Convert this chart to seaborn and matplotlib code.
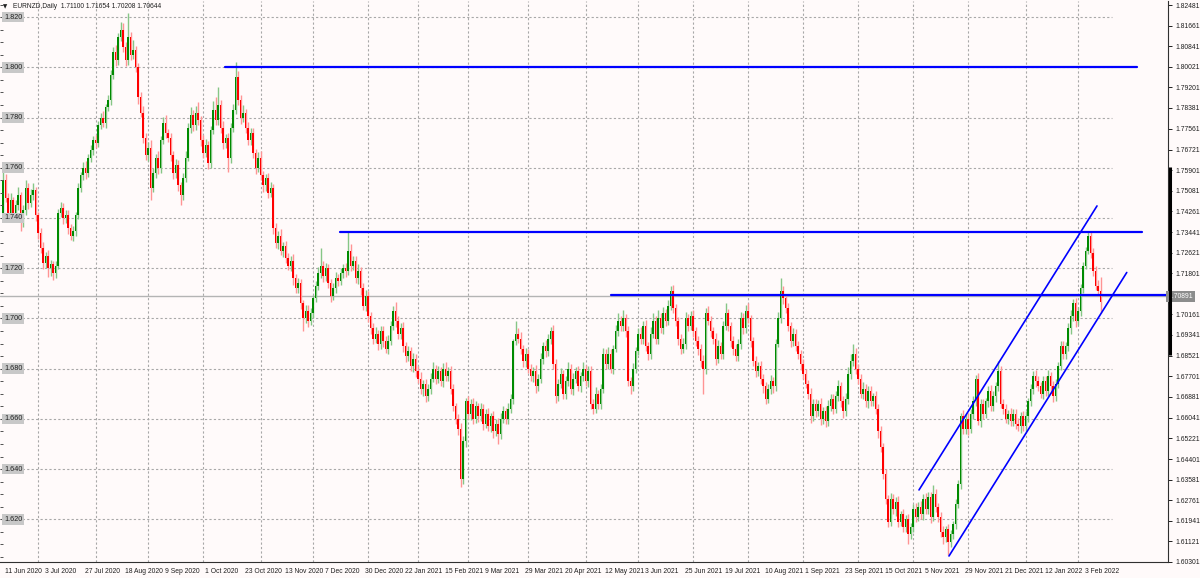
import matplotlib
matplotlib.use("Agg")
import matplotlib.pyplot as plt
import matplotlib.transforms as mtransforms
import numpy as np
import pandas as pd
import seaborn as sns

# EURNZD daily bars, 11 Jun 2020 .. 14 Feb 2022 (bar index 0 = 11 Jun 2020)
first_open = 1.7410
closes = [
    1.7550, 1.7480, 1.7420, 1.7470, 1.7420, 1.7450, 1.7490, 1.7380, 1.7430, 1.7520,
    1.7460, 1.7490, 1.7510, 1.7410, 1.7340, 1.7280, 1.7220, 1.7250, 1.7200, 1.7215,
    1.7180, 1.7210, 1.7420, 1.7440, 1.7400, 1.7410, 1.7360, 1.7330, 1.7350, 1.7410,
    1.7520, 1.7570, 1.7600, 1.7580, 1.7640, 1.7670, 1.7710, 1.7700, 1.7770, 1.7800,
    1.7780, 1.7840, 1.7870, 1.7970, 1.8060, 1.8030, 1.8120, 1.8150, 1.8080, 1.8030,
    1.8120, 1.8050, 1.8070, 1.8000, 1.7880, 1.7820, 1.7720, 1.7650, 1.7680, 1.7520,
    1.7580, 1.7640, 1.7600, 1.7710, 1.7780, 1.7740, 1.7720, 1.7650, 1.7580, 1.7610,
    1.7530, 1.7490, 1.7560, 1.7640, 1.7760, 1.7810, 1.7770, 1.7820, 1.7790, 1.7710,
    1.7660, 1.7690, 1.7620, 1.7750, 1.7830, 1.7790, 1.7850, 1.7760, 1.7700, 1.7720,
    1.7640, 1.7760, 1.7830, 1.7960, 1.7870, 1.7800, 1.7820, 1.7760, 1.7710, 1.7740,
    1.7660, 1.7600, 1.7640, 1.7570, 1.7530, 1.7560, 1.7500, 1.7520, 1.7360, 1.7300,
    1.7330, 1.7270, 1.7290, 1.7240, 1.7210, 1.7230, 1.7160, 1.7120, 1.7140, 1.7060,
    1.7000, 1.7030, 1.6990, 1.7020, 1.7080, 1.7130, 1.7180, 1.7210, 1.7170, 1.7200,
    1.7140, 1.7090, 1.7120, 1.7160, 1.7150, 1.7180, 1.7200, 1.7190, 1.7270, 1.7210,
    1.7230, 1.7160, 1.7190, 1.7120, 1.7050, 1.7090, 1.7010, 1.6960, 1.6920, 1.6940,
    1.6900, 1.6950, 1.6910, 1.6880, 1.6910, 1.6970, 1.7030, 1.6990, 1.6940, 1.6960,
    1.6890, 1.6850, 1.6870, 1.6810, 1.6840, 1.6790, 1.6760, 1.6720, 1.6740, 1.6690,
    1.6720, 1.6760, 1.6800, 1.6760, 1.6790, 1.6750, 1.6800, 1.6770, 1.6790, 1.6720,
    1.6650, 1.6600, 1.6560, 1.6360, 1.6510, 1.6670, 1.6620, 1.6660, 1.6600, 1.6650,
    1.6610, 1.6640, 1.6580, 1.6620, 1.6570, 1.6610, 1.6550, 1.6580, 1.6540, 1.6600,
    1.6630, 1.6600, 1.6640, 1.6680, 1.6910, 1.6940, 1.6920, 1.6880, 1.6830, 1.6860,
    1.6800, 1.6770, 1.6790, 1.6730, 1.6760, 1.6840, 1.6890, 1.6870, 1.6920, 1.6950,
    1.6820, 1.6690, 1.6740, 1.6780, 1.6700, 1.6750, 1.6800, 1.6720, 1.6760, 1.6790,
    1.6730, 1.6770, 1.6800, 1.6750, 1.6790, 1.6660, 1.6640, 1.6700, 1.6660, 1.6720,
    1.6860, 1.6820, 1.6860, 1.6800, 1.6880, 1.6950, 1.6990, 1.6970, 1.7000, 1.6950,
    1.6750, 1.6730, 1.6800, 1.6870, 1.6940, 1.6920, 1.6970, 1.6890, 1.6860, 1.6940,
    1.6990, 1.6920, 1.7000, 1.6960, 1.7020, 1.6990, 1.7050, 1.7110, 1.7040, 1.6990,
    1.6920, 1.6880, 1.6900, 1.7000, 1.6970, 1.7010, 1.6950, 1.6910, 1.6880, 1.6830,
    1.6800, 1.7020, 1.6990, 1.6950, 1.6920, 1.6840, 1.6890, 1.6860, 1.6970, 1.7020,
    1.6970, 1.6910, 1.6880, 1.6850, 1.6900, 1.7000, 1.6960, 1.7030, 1.7000, 1.6910,
    1.6830, 1.6790, 1.6810, 1.6760, 1.6730, 1.6680, 1.6720, 1.6750, 1.6730, 1.6900,
    1.7000, 1.7110, 1.7080, 1.7040, 1.6970, 1.6910, 1.6940, 1.6890, 1.6860, 1.6820,
    1.6780, 1.6740, 1.6700, 1.6610, 1.6660, 1.6630, 1.6660, 1.6600, 1.6630, 1.6590,
    1.6650, 1.6680, 1.6640, 1.6690, 1.6730, 1.6670, 1.6630, 1.6680, 1.6780, 1.6830,
    1.6860, 1.6800, 1.6760, 1.6700, 1.6720, 1.6670, 1.6710, 1.6670, 1.6690, 1.6640,
    1.6550, 1.6490, 1.6380, 1.6280, 1.6190, 1.6280, 1.6240, 1.6270, 1.6190, 1.6220,
    1.6170, 1.6200, 1.6140, 1.6170, 1.6240, 1.6210, 1.6250, 1.6220, 1.6280, 1.6240,
    1.6290, 1.6210, 1.6300, 1.6250, 1.6210, 1.6150, 1.6130, 1.6160, 1.6110, 1.6140,
    1.6180, 1.6260, 1.6340, 1.6610, 1.6560, 1.6600, 1.6560, 1.6620, 1.6670, 1.6760,
    1.6590, 1.6660, 1.6620, 1.6670, 1.6710, 1.6650, 1.6690, 1.6730, 1.6790, 1.6660,
    1.6640, 1.6600, 1.6620, 1.6590, 1.6620, 1.6580, 1.6570, 1.6610, 1.6570, 1.6610,
    1.6670, 1.6720, 1.6770, 1.6750, 1.6730, 1.6700, 1.6750, 1.6710, 1.6770, 1.6730,
    1.6690, 1.6740, 1.6810, 1.6890, 1.6860, 1.6890, 1.6960, 1.7010, 1.7060, 1.6990,
    1.7030, 1.7120, 1.7210, 1.7270, 1.7330, 1.7260, 1.7190, 1.7130, 1.7110, 1.70644,
]

# wick lengths above / below the candle body, in pips
upper_wick = [
    40, 25, 18, 30, 12, 22, 35, 15, 20, 30, 18, 25, 30, 15, 12, 20, 25, 15, 22, 18,
    15, 20, 15, 25, 18, 20, 22, 15, 20, 12, 18, 15, 22, 25, 15, 20, 18, 22, 15, 20,
    25, 15, 20, 18, 22, 30, 15, 30, 25, 20, 95, 22, 40, 15, 18, 20, 25, 18, 22, 30,
    20, 15, 25, 18, 22, 30, 15, 20, 18, 25, 20, 15, 18, 25, 20, 30, 22, 25, 40, 15,
    20, 25, 15, 18, 35, 50, 70, 20, 25, 15, 18, 20, 25, 60, 25, 20, 30, 15, 22, 18,
    20, 15, 22, 25, 18, 15, 20, 25, 15, 20, 18, 25, 15, 20, 22, 18, 25, 15, 20, 18,
    15, 22, 25, 20, 15, 18, 25, 70, 20, 22, 15, 18, 20, 25, 15, 22, 18, 20, 75, 25,
    20, 18, 25, 15, 20, 22, 18, 15, 20, 25, 15, 18, 20, 22, 25, 18, 20, 35, 18, 22,
    25, 18, 20, 15, 22, 18, 20, 25, 15, 20, 18, 22, 25, 15, 20, 18, 22, 25, 15, 20,
    18, 15, 20, 25, 20, 15, 22, 18, 25, 20, 15, 22, 18, 20, 25, 15, 20, 18, 22, 25,
    20, 15, 22, 18, 10, 50, 20, 25, 15, 22, 18, 20, 15, 25, 20, 22, 18, 25, 20, 15,
    25, 20, 18, 22, 15, 20, 25, 18, 22, 15, 20, 18, 25, 15, 22, 20, 18, 25, 15, 20,
    22, 18, 25, 20, 15, 22, 30, 20, 35, 18, 20, 15, 22, 18, 20, 25, 20, 22, 15, 25,
    30, 18, 35, 20, 25, 18, 22, 20, 25, 18, 15, 20, 22, 25, 18, 20, 22, 15, 20, 18,
    25, 20, 30, 18, 15, 22, 25, 18, 20, 40, 18, 15, 22, 20, 18, 25, 20, 22, 30, 15,
    18, 20, 15, 22, 18, 15, 20, 25, 18, 20, 25, 50, 20, 18, 22, 15, 20, 18, 22, 15,
    18, 20, 15, 22, 18, 20, 15, 22, 18, 20, 25, 18, 20, 22, 25, 18, 20, 22, 25, 30,
    40, 22, 18, 20, 25, 18, 22, 20, 15, 22, 18, 20, 15, 20, 15, 25, 20, 18, 22, 15,
    20, 18, 22, 15, 20, 25, 18, 22, 20, 25, 20, 18, 35, 20, 15, 18, 22, 15, 20, 18,
    15, 20, 18, 15, 25, 20, 22, 18, 20, 15, 22, 18, 20, 15, 22, 25, 20, 18, 40, 22,
    18, 20, 15, 22, 18, 20, 25, 18, 20, 22, 15, 18, 20, 25, 20, 18, 22, 20, 25, 18,
    20, 18, 15, 20, 22, 18, 20, 25, 18, 20, 15, 18, 15, 15, 15, 15, 20, 18, 25, 55,
]
lower_wick = [
    20, 18, 25, 15, 22, 18, 20, 30, 15, 20, 25, 15, 18, 20, 25, 18, 22, 20, 35, 30,
    25, 20, 15, 18, 22, 20, 25, 18, 22, 20, 15, 18, 20, 25, 15, 18, 20, 22, 18, 15,
    18, 20, 15, 22, 18, 25, 20, 15, 18, 25, 20, 22, 18, 20, 25, 18, 22, 20, 25, 50,
    18, 22, 25, 20, 15, 20, 18, 22, 25, 20, 22, 40, 20, 18, 15, 20, 22, 18, 20, 25,
    22, 18, 25, 20, 15, 20, 18, 22, 25, 20, 55, 20, 18, 15, 20, 25, 18, 22, 20, 18,
    22, 25, 18, 20, 25, 22, 20, 18, 25, 20, 22, 18, 25, 20, 18, 22, 25, 20, 18, 22,
    50, 20, 25, 18, 20, 15, 18, 20, 25, 22, 20, 25, 18, 20, 22, 18, 20, 25, 18, 22,
    18, 20, 22, 25, 18, 20, 25, 22, 20, 18, 25, 20, 22, 18, 20, 15, 18, 25, 22, 20,
    22, 25, 18, 20, 22, 25, 18, 20, 30, 22, 18, 20, 15, 22, 18, 20, 25, 18, 20, 22,
    20, 22, 25, 30, 18, 20, 22, 25, 20, 18, 22, 20, 25, 18, 20, 22, 25, 20, 40, 22,
    18, 20, 22, 18, 20, 15, 18, 20, 22, 25, 18, 20, 22, 25, 20, 18, 20, 22, 18, 20,
    22, 25, 20, 18, 22, 20, 18, 22, 25, 18, 20, 22, 18, 20, 25, 22, 20, 18, 22, 20,
    18, 20, 22, 18, 20, 15, 18, 20, 22, 25, 18, 30, 20, 18, 15, 20, 22, 18, 25, 20,
    18, 22, 20, 18, 22, 20, 15, 18, 20, 22, 25, 20, 18, 22, 20, 18, 22, 20, 25, 22,
    100, 20, 18, 22, 20, 25, 18, 22, 20, 18, 20, 22, 25, 20, 18, 20, 22, 18, 20, 22,
    20, 22, 18, 20, 25, 22, 18, 20, 25, 18, 15, 20, 22, 18, 20, 22, 18, 20, 22, 25,
    20, 18, 22, 25, 20, 22, 18, 25, 20, 22, 18, 20, 22, 18, 20, 22, 25, 18, 20, 22,
    18, 20, 22, 18, 20, 22, 25, 18, 20, 22, 25, 20, 18, 20, 22, 18, 20, 25, 22, 18,
    22, 20, 40, 18, 20, 22, 18, 20, 22, 18, 20, 25, 18, 20, 22, 20, 30, 22, 52, 20,
    18, 20, 15, 18, 22, 20, 25, 18, 20, 18, 15, 22, 20, 18, 22, 20, 18, 22, 20, 18,
    20, 18, 22, 20, 18, 22, 20, 25, 18, 20, 22, 18, 20, 22, 20, 18, 22, 20, 18, 25,
    22, 20, 18, 15, 20, 22, 18, 20, 22, 25, 18, 20, 18, 15, 15, 20, 22, 18, 20, 44,
]

# bottom axis labels, one every 16 bars
date_labels = [
    "11 Jun 2020", "3 Jul 2020", "27 Jul 2020", "18 Aug 2020", "9 Sep 2020",
    "1 Oct 2020", "23 Oct 2020", "13 Nov 2020", "7 Dec 2020", "30 Dec 2020",
    "22 Jan 2021", "15 Feb 2021", "9 Mar 2021", "29 Mar 2021", "20 Apr 2021",
    "12 May 2021", "3 Jun 2021", "25 Jun 2021", "19 Jul 2021", "10 Aug 2021",
    "1 Sep 2021", "23 Sep 2021", "15 Oct 2021", "5 Nov 2021", "29 Nov 2021",
    "21 Dec 2021", "12 Jan 2022", "3 Feb 2022",
]
# first bar of each month -> vertical grid
month_start_bars = [14, 37, 58, 80, 103, 124, 146, 166, 186, 210,
                    233, 254, 276, 298, 320, 342, 364, 386, 409, 430]

price_scale = [1.82481, 1.81661, 1.80841, 1.80021, 1.79201, 1.78381, 1.77561,
               1.76721, 1.75901, 1.75081, 1.74261, 1.73441, 1.72621, 1.71801,
               1.70161, 1.69341, 1.68521, 1.67701, 1.66881, 1.66041, 1.65221,
               1.64401, 1.63581, 1.62761, 1.61941, 1.61121, 1.60301]
round_levels = [1.820, 1.800, 1.780, 1.760, 1.740, 1.720, 1.700,
                1.680, 1.660, 1.640, 1.620]
bid_price = 1.70891

# drawn objects: horizontal levels (from bar, to bar, price) and channel lines
levels = [(88.8, 453.6, 1.8000), (134.8, 455.6, 1.7344), (243.1, 470.0, 1.7092)]
channel_upper = ([366.4, 437.6], [1.6317, 1.7448])
channel_lower = ([378.4, 449.5], [1.6054, 1.7183])

header = "EURNZD,Daily  1.71100 1.71654 1.70208 1.70644"

# ---------------------------------------------------------------------------
bars = pd.DataFrame({"close": closes, "up": upper_wick, "dn": lower_wick})
bars["open"] = [first_open] + closes[:-1]
bars["top"] = bars[["open", "close"]].max(axis=1)
bars["bot"] = bars[["open", "close"]].min(axis=1)
bars["high"] = bars["top"] + bars["up"] * 0.0001
bars["low"] = bars["bot"] - bars["dn"] * 0.0001
bars["bull"] = bars["close"] >= bars["open"]
bars["x"] = np.arange(len(bars))

bg = "#fffafa"
sns.set_style("white", {"axes.facecolor": bg, "figure.facecolor": bg})
plt.rcParams["font.family"] = ["Liberation Sans", "DejaVu Sans"]

fig = plt.figure(figsize=(12, 5.78), dpi=100)
ax = fig.add_axes([0.0, 16 / 578, 1168 / 1200, 561 / 578])
ymin, ymax = 1.60426, 1.82641
xmin, xmax = -1.2, 466.0

# grid
for b in month_start_bars:
    ax.axvline(b, color="#a8a8a8", lw=0.8, ls=(0, (2, 2)), zorder=0)
ax.hlines(round_levels, xmin, 443.6, color="#a8a8a8", lw=0.8,
          ls=(0, (2, 2)), zorder=0)

# candles
up = bars[bars["bull"]]
dn = bars[~bars["bull"]]
ax.vlines(up["x"], up["low"], up["high"], color="#86c686", lw=1.0, zorder=2)
ax.vlines(dn["x"], dn["low"], dn["high"], color="#ff9494", lw=1.0, zorder=2)
ax.bar(up["x"], (up["top"] - up["bot"]).clip(lower=0.0003), bottom=up["bot"],
       width=0.68, color="#008a00", linewidth=0, zorder=3)
ax.bar(dn["x"], (dn["top"] - dn["bot"]).clip(lower=0.0003), bottom=dn["bot"],
       width=0.68, color="#ff0000", linewidth=0, zorder=3)

# bid line
ax.axhline(bid_price, color="#b4b4b4", lw=1.0, zorder=1)

# levels and channel
for x0, x1, p in levels:
    sns.lineplot(x=[x0, x1], y=[p, p], color="#0000ff", lw=1.6, ax=ax,
                 zorder=4, estimator=None)
for xs, ys in (channel_upper, channel_lower):
    sns.lineplot(x=xs, y=ys, color="#0000ff", lw=1.2, ax=ax, zorder=4,
                 estimator=None)

ax.set_xlim(xmin, xmax)
ax.set_ylim(ymin, ymax)
ax.set_xlabel("")
ax.set_ylabel("")

# right price scale
ax.yaxis.tick_right()
ax.set_yticks(price_scale, [f"{v:.5f}" for v in price_scale])
ax.tick_params(axis="y", direction="out", length=3, width=0.7, pad=2,
               labelsize=4.9, colors="#202020")
ax.text(1.0, bid_price, f"{bid_price:.5f}", transform=ax.get_yaxis_transform(),
        ha="left", va="center", fontsize=4.9, color="#ffffff",
        bbox=dict(boxstyle="square,pad=0.3", fc="#8c8c8c", ec="none"),
        clip_on=False, zorder=6)
ax.plot([1.0015, 1.0015], [1.6854, 1.7602], transform=ax.get_yaxis_transform(),
        color="black", lw=2.2, clip_on=False, zorder=6, solid_capstyle="butt")

# bottom date scale
ax.set_xticks([16 * i for i in range(len(date_labels))], date_labels)
ax.tick_params(axis="x", direction="out", length=3, width=0.7, pad=1.5,
               labelsize=4.9, colors="#202020")
shift = mtransforms.ScaledTranslation(1.5 / 72, 0, fig.dpi_scale_trans)
for lbl in ax.get_xticklabels():
    lbl.set_ha("left")
    lbl.set_transform(lbl.get_transform() + shift)

# left round-number labels and small ticks
ytrans = ax.get_yaxis_transform()
for v in round_levels:
    ax.text(0.0035, v, f"{v:.3f}", transform=ytrans, ha="left", va="center",
            fontsize=5.2, color="#202020", zorder=6,
            bbox=dict(boxstyle="square,pad=0.25", fc="#c8c8c8", ec="none"))
minor = np.arange(1.605, 1.8251, 0.005)
ax.hlines(minor, 0, 0.0025, transform=ytrans, color="#505050", lw=0.7, zorder=5)

for side in ["left", "top"]:
    ax.spines[side].set_visible(False)
for side in ["right", "bottom"]:
    ax.spines[side].set_color("#303030")
    ax.spines[side].set_linewidth(0.8)

# header
fig.text(3 / 1200, 1 - 7 / 578, "\u25bc", fontsize=4, va="center",
         family="DejaVu Sans", color="#202020")
fig.text(13 / 1200, 1 - 7 / 578, header, fontsize=4.8, va="center",
         color="#202020")

fig.savefig("out.png", dpi=100, facecolor=bg)
